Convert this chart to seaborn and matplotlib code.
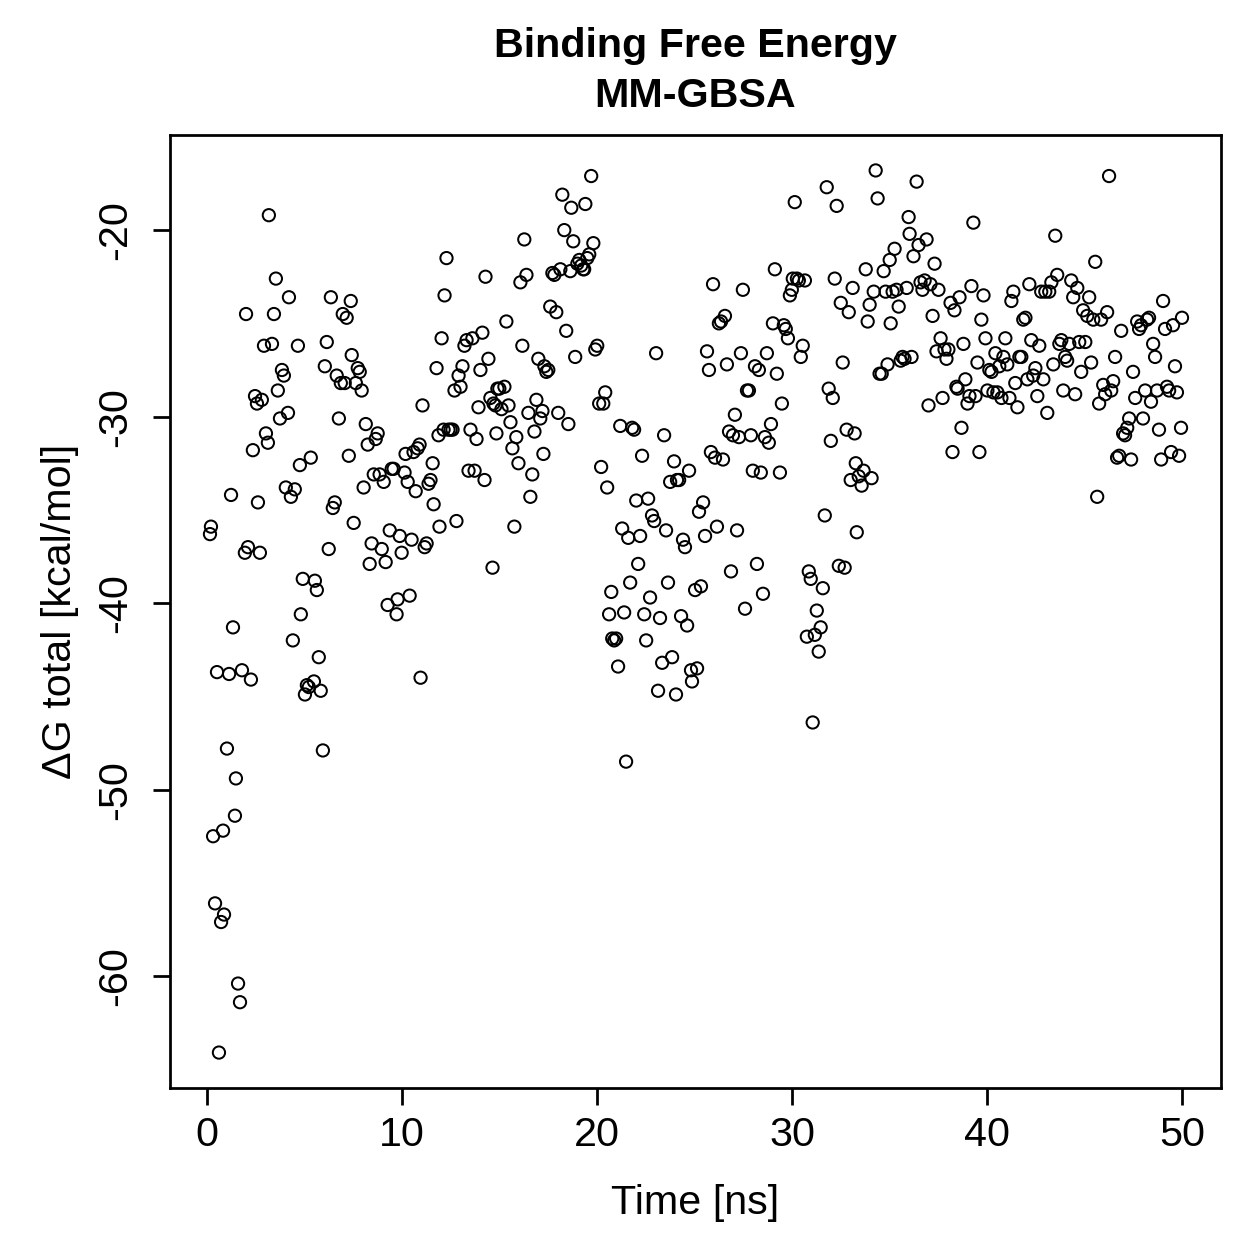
import matplotlib
matplotlib.use("Agg")
import matplotlib.pyplot as plt
import seaborn as sns
import pandas as pd

time_ns = [
    0.15, 0.20, 0.31, 0.41, 0.51, 0.61, 0.72, 0.82, 0.87, 1.02,
    1.13, 1.23, 1.33, 1.48, 1.43, 1.59, 1.69, 1.79, 1.94, 2.00,
    2.10, 2.25, 2.35, 2.46, 2.56, 2.61, 2.71, 2.81, 2.92, 3.02,
    3.12, 3.17, 3.33, 3.43, 3.53, 3.63, 3.74, 3.84, 3.94, 4.04,
    4.15, 4.20, 4.30, 4.40, 4.50, 4.66, 4.76, 4.91, 4.81, 5.02,
    5.12, 5.22, 5.32, 5.48, 5.53, 5.63, 5.73, 5.83, 5.94, 6.04,
    6.14, 6.24, 6.35, 6.45, 6.55, 6.65, 6.76, 6.86, 6.96, 7.06,
    7.16, 7.27, 7.37, 7.42, 7.52, 7.63, 7.73, 7.83, 7.93, 8.03,
    8.14, 8.24, 8.34, 8.44, 8.55, 8.65, 8.75, 8.85, 8.96, 9.06,
    9.16, 9.26, 9.37, 9.47, 9.57, 9.72, 9.77, 9.88, 9.98, 10.13,
    10.18, 10.29, 10.39, 10.49, 10.59, 10.70, 10.80, 10.90, 10.95, 11.05,
    11.16, 11.26, 11.36, 11.46, 11.57, 11.62, 11.77, 11.87, 11.92, 12.03,
    12.13, 12.18, 12.28, 12.38, 12.49, 12.59, 12.69, 12.79, 12.90, 13.00,
    13.10, 13.20, 13.31, 13.41, 13.51, 13.61, 13.72, 13.82, 13.92, 14.02,
    14.12, 14.23, 14.28, 14.43, 14.53, 14.64, 14.69, 14.79, 14.84, 14.89,
    14.99, 15.10, 15.25, 15.35, 15.46, 15.56, 15.66, 15.76, 15.86, 15.97,
    16.07, 16.17, 16.27, 16.38, 16.48, 16.58, 16.68, 16.79, 16.89, 16.99,
    17.09, 17.20, 17.25, 17.30, 17.40, 17.50, 17.60, 17.71, 17.81, 17.91,
    18.01, 18.12, 18.22, 18.32, 18.42, 18.53, 18.63, 18.68, 18.78, 18.88,
    18.99, 19.09, 19.19, 19.29, 19.34, 19.40, 19.50, 19.60, 19.70, 19.81,
    19.91, 20.01, 20.11, 20.21, 20.32, 20.42, 20.52, 20.62, 20.73, 20.78,
    20.88, 20.98, 21.08, 21.19, 21.29, 21.39, 21.49, 21.60, 21.70, 21.80,
    21.90, 22.01, 22.11, 22.21, 22.31, 22.42, 22.52, 22.62, 22.72, 22.82,
    22.93, 23.03, 23.13, 23.23, 23.34, 23.44, 23.54, 23.64, 23.75, 23.85,
    23.95, 24.05, 24.10, 24.21, 24.31, 24.41, 24.51, 24.62, 24.72, 24.82,
    24.87, 25.03, 25.13, 25.23, 25.33, 25.44, 25.54, 25.64, 25.74, 25.84,
    25.95, 26.05, 26.15, 26.25, 26.36, 26.46, 26.56, 26.66, 26.77, 26.87,
    26.97, 27.07, 27.18, 27.28, 27.38, 27.48, 27.59, 27.69, 27.79, 27.89,
    27.99, 28.10, 28.20, 28.30, 28.40, 28.51, 28.61, 28.71, 28.81, 28.92,
    29.02, 29.12, 29.22, 29.38, 29.48, 29.58, 29.68, 29.79, 29.89, 29.99,
    30.04, 30.14, 30.25, 30.35, 30.45, 30.55, 30.66, 30.76, 30.86, 30.96,
    31.06, 31.17, 31.27, 31.37, 31.47, 31.58, 31.68, 31.78, 31.88, 31.99,
    32.09, 32.19, 32.29, 32.40, 32.50, 32.60, 32.70, 32.80, 32.91, 33.01,
    33.11, 33.21, 33.27, 33.32, 33.42, 33.57, 33.67, 33.78, 33.88, 33.98,
    34.08, 34.19, 34.29, 34.39, 34.49, 34.60, 34.70, 34.80, 34.90, 35.01,
    35.06, 35.16, 35.26, 35.36, 35.47, 35.57, 35.67, 35.77, 35.88, 35.98,
    36.03, 36.13, 36.23, 36.39, 36.49, 36.59, 36.69, 36.80, 36.90, 37.00,
    37.10, 37.21, 37.31, 37.41, 37.51, 37.62, 37.72, 37.82, 37.92, 38.02,
    38.13, 38.23, 38.33, 38.43, 38.49, 38.59, 38.69, 38.79, 38.89, 39.00,
    39.10, 39.20, 39.30, 39.41, 39.51, 39.61, 39.71, 39.82, 39.92, 40.02,
    40.12, 40.23, 40.33, 40.43, 40.53, 40.63, 40.74, 40.84, 40.94, 41.04,
    41.15, 41.25, 41.35, 41.45, 41.56, 41.66, 41.76, 41.86, 41.97, 42.07,
    42.17, 42.27, 42.37, 42.48, 42.58, 42.68, 42.78, 42.89, 42.99, 43.09,
    43.19, 43.30, 43.40, 43.50, 43.60, 43.71, 43.81, 43.91, 44.01, 44.11,
    44.22, 44.32, 44.42, 44.52, 44.63, 44.73, 44.83, 44.93, 45.04, 45.14,
    45.24, 45.34, 45.45, 45.55, 45.65, 45.75, 45.85, 45.96, 46.06, 46.16,
    46.26, 46.37, 46.47, 46.57, 46.67, 46.78, 46.88, 46.98, 47.08, 47.19,
    47.29, 47.39, 47.49, 47.60, 47.70, 47.80, 47.90, 48.00, 48.11, 48.21,
    48.31, 48.41, 48.52, 48.62, 48.72, 48.82, 48.93, 49.03, 49.13, 49.23,
    49.34, 49.44, 49.54, 49.64, 49.74, 49.85, 49.95, 50.00,
]

dg_total = [
    -36.3, -35.9, -52.5, -56.1, -43.7, -64.1, -57.1, -52.2, -56.7, -47.8,
    -43.8, -34.2, -41.3, -49.4, -51.4, -60.4, -61.4, -43.6, -37.3, -24.5,
    -37.0, -44.1, -31.8, -28.9, -29.3, -34.6, -37.3, -29.1, -26.2, -30.9,
    -31.4, -19.2, -26.1, -24.5, -22.6, -28.6, -30.1, -27.5, -27.8, -33.8,
    -29.8, -23.6, -34.3, -42.0, -33.9, -26.2, -32.6, -38.7, -40.6, -44.9,
    -44.4, -44.5, -32.2, -44.2, -38.8, -39.3, -42.9, -44.7, -47.9, -27.3,
    -26.0, -37.1, -23.6, -34.9, -34.6, -27.8, -30.1, -28.2, -24.5, -28.2,
    -24.7, -32.1, -23.8, -26.7, -35.7, -28.2, -27.4, -27.6, -28.6, -33.8,
    -30.4, -31.5, -37.9, -36.8, -33.1, -31.2, -30.9, -33.1, -37.1, -33.5,
    -37.8, -40.1, -36.1, -32.8, -32.8, -40.6, -39.8, -36.4, -37.3, -33.0,
    -32.0, -33.5, -39.6, -36.6, -31.9, -34.0, -31.7, -31.5, -44.0, -29.4,
    -37.0, -36.8, -33.6, -33.4, -32.5, -34.7, -27.4, -31.0, -35.9, -25.8,
    -30.7, -23.5, -21.5, -30.7, -30.7, -30.7, -28.6, -35.6, -27.8, -28.4,
    -27.3, -26.2, -25.9, -32.9, -30.7, -25.8, -32.9, -31.2, -29.5, -27.5,
    -25.5, -33.4, -22.5, -26.9, -29.0, -38.1, -29.3, -29.4, -30.9, -28.5,
    -28.5, -29.6, -28.4, -24.9, -29.4, -30.3, -31.7, -35.9, -31.1, -32.5,
    -22.8, -26.2, -20.5, -22.4, -29.8, -34.3, -33.1, -30.8, -29.1, -26.9,
    -30.1, -29.7, -32.0, -27.3, -27.6, -27.5, -24.1, -22.3, -22.4, -24.4,
    -29.8, -22.1, -18.1, -20.0, -25.4, -30.4, -22.2, -18.8, -20.6, -26.8,
    -21.8, -21.6, -21.9, -22.1, -22.1, -18.6, -21.5, -21.3, -17.1, -20.7,
    -26.4, -26.2, -29.3, -32.7, -29.3, -28.7, -33.8, -40.6, -39.4, -41.9,
    -42.0, -41.9, -43.4, -30.5, -36.0, -40.5, -48.5, -36.5, -38.9, -30.6,
    -30.7, -34.5, -37.9, -36.4, -32.1, -40.6, -42.0, -34.4, -39.7, -35.3,
    -35.6, -26.6, -44.7, -40.8, -43.2, -31.0, -36.1, -38.9, -33.5, -42.9,
    -32.4, -44.9, -33.4, -33.4, -40.7, -36.6, -37.0, -41.2, -32.9, -43.6,
    -44.2, -39.3, -43.5, -35.1, -39.1, -34.6, -36.4, -26.5, -27.5, -31.9,
    -22.9, -32.2, -35.9, -25.0, -24.9, -32.3, -24.6, -27.2, -30.8, -38.3,
    -31.0, -29.9, -36.1, -31.1, -26.6, -23.2, -40.3, -28.6, -28.6, -31.0,
    -32.9, -27.3, -37.9, -27.5, -33.0, -39.5, -31.1, -26.6, -31.4, -30.4,
    -25.0, -22.1, -27.7, -33.0, -29.3, -25.1, -25.3, -25.8, -23.5, -23.2,
    -22.6, -18.5, -22.6, -22.7, -26.8, -26.2, -22.7, -41.8, -38.3, -38.7,
    -46.4, -41.7, -40.4, -42.6, -41.3, -39.2, -35.3, -17.7, -28.5, -31.3,
    -29.0, -22.6, -18.7, -38.0, -23.9, -27.1, -38.1, -30.7, -24.4, -33.4,
    -23.1, -30.9, -32.5, -36.2, -33.2, -33.7, -32.9, -22.1, -24.9, -24.0,
    -33.3, -23.3, -16.8, -18.3, -27.7, -27.7, -22.2, -23.3, -27.2, -21.6,
    -25.0, -23.3, -21.0, -23.2, -24.1, -27.0, -26.8, -26.9, -23.1, -19.3,
    -20.2, -26.8, -21.4, -17.4, -20.8, -22.8, -23.2, -22.7, -20.5, -29.4,
    -22.9, -24.6, -21.8, -26.5, -23.2, -25.8, -29.0, -26.4, -26.9, -26.4,
    -23.9, -31.9, -24.3, -28.4, -28.5, -23.6, -30.6, -26.1, -28.0, -29.3,
    -28.9, -23.0, -19.6, -28.9, -27.1, -31.9, -24.8, -23.5, -25.8, -28.6,
    -27.5, -27.6, -28.7, -26.6, -28.7, -27.3, -29.0, -26.8, -25.8, -27.2,
    -29.0, -23.8, -23.3, -28.2, -29.5, -26.8, -26.8, -24.8, -24.7, -28.0,
    -22.9, -25.9, -27.8, -27.4, -28.9, -26.2, -23.3, -28.0, -23.3, -29.8,
    -23.3, -22.8, -27.2, -20.3, -22.4, -26.1, -25.9, -28.6, -26.8, -27.0,
    -26.1, -22.7, -23.6, -28.8, -23.1, -26.0, -27.6, -24.3, -26.0, -24.6,
    -23.6, -27.1, -24.8, -21.7, -34.3, -29.3, -24.8, -28.3, -28.8, -24.4,
    -17.1, -28.6, -28.1, -26.8, -32.2, -32.1, -25.4, -30.9, -31.0, -30.6,
    -30.1, -32.3, -27.6, -29.0, -24.9, -25.3, -25.1, -30.1, -28.6, -24.8,
    -24.7, -29.2, -26.1, -26.8, -28.6, -30.7, -32.3, -23.8, -25.3, -28.4,
    -28.6, -31.9, -25.1, -27.3, -28.7, -32.1, -30.6, -24.7,
]

x_ticks = [0, 10, 20, 30, 40, 50]
y_ticks = [-60, -50, -40, -30, -20]

title_text = "Binding Free Energy\nMM-GBSA"
x_label = "Time [ns]"
y_label = "\u0394G total [kcal/mol]"

df = pd.DataFrame({"time": time_ns, "dg": dg_total})

sns.set_style("ticks")
plt.rcParams["font.family"] = ["Liberation Sans", "DejaVu Sans"]
for key in ["text.color", "axes.labelcolor", "xtick.color", "ytick.color", "axes.edgecolor"]:
    plt.rcParams[key] = "black"

W = 1259
fig = plt.figure(figsize=(W / 180, W / 180), dpi=180)
ax = fig.add_axes([170 / W, 1 - 1088 / W, (1221 - 170) / W, (1088 - 135) / W])

sns.scatterplot(data=df, x="time", y="dg", ax=ax, marker="o", s=24,
                facecolor="none", edgecolor="black", linewidth=0.8, legend=False)

ax.set_xlim(-1.9, 52.0)
ax.set_ylim(-66.0, -14.9)
ax.set_xticks(x_ticks)
ax.set_xticklabels([str(t) for t in x_ticks], fontsize=16.5)
ax.set_yticks(y_ticks)
ax.set_yticklabels([str(t) for t in y_ticks], fontsize=16.5, rotation=90, va="center")
ax.tick_params(axis="both", direction="out", length=6.8, width=1.1, color="black",
               labelcolor="black")
ax.tick_params(axis="x", pad=4.5)
ax.tick_params(axis="y", pad=7.5)
for sp in ax.spines.values():
    sp.set_visible(True)
    sp.set_linewidth(1.1)
    sp.set_color("black")

ax.set_xlabel(x_label, fontsize=16.5, labelpad=12)
ax.set_ylabel(y_label, fontsize=16.5, labelpad=7)

fig.text((170 + 1221) / 2 / W, 1 - 27 / W, title_text, ha="center", va="top",
         fontsize=16.5, fontweight="bold", linespacing=1.4)

fig.savefig("out.png", dpi=180, facecolor="white")
